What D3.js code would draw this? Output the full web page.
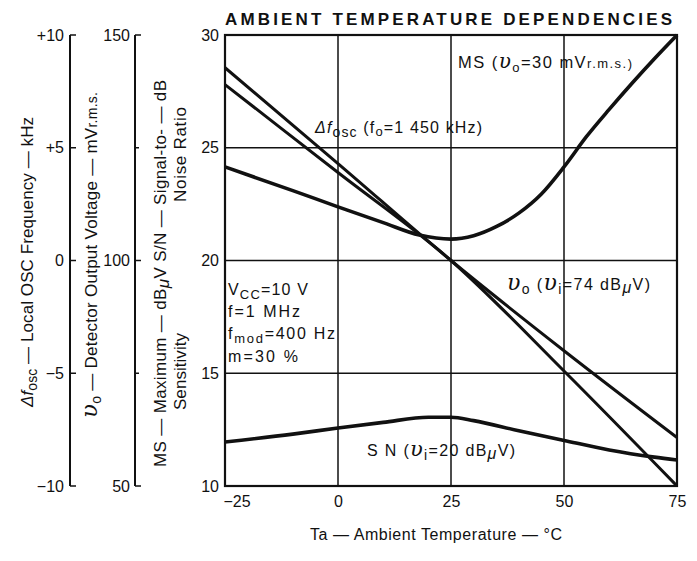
<!DOCTYPE html>
<html>
<head>
<meta charset="utf-8">
<script src="https://cdn.jsdelivr.net/npm/d3@7"></script>
<style>
	body { margin: 0; background: #fff; }
	svg { display: block; }
	text { font-family: "Liberation Sans", Arial, sans-serif; fill: #111; }
	.ups { font-family: "DejaVu Serif", serif; font-style: italic; }
</style>
</head>
<body>
<div class="graphic"></div>
<script>
// temperatures (deg C) and readings, taken off the printed curves
var msTemps = [-25, -10, 0, 10, 18, 25, 30, 35, 40, 45, 50, 55, 60, 65, 70, 75];
var msValues = [24.15, 23.1, 22.38, 21.68, 21.13, 20.95, 21.1, 21.5, 22.1, 22.95, 24.15, 25.5, 26.7, 27.85, 28.95, 30];

var dfoscTemps = [-25, 0, 25, 50, 75];
var dfoscValues = [28.55, 24.3, 20.0, 16.0, 12.15];

var voTemps = [-25, 0, 25, 50, 75];
var voValues = [27.8, 23.9, 20.0, 15.1, 10.0];

var snTemps = [-25, -10, 0, 10, 20, 25, 30, 40, 50, 60, 70, 75];
var snValues = [11.95, 12.3, 12.57, 12.82, 13.05, 13.05, 12.9, 12.45, 12.02, 11.6, 11.28, 11.15];

var xTicks = [-25, 0, 25, 50, 75];
var yTicks = [10, 15, 20, 25, 30];
var oscTicks = [-10, -5, 0, 5, 10];
var oscLabels = ['\u221210', '\u22125', '0', '+5', '+10'];
var msTicks = [50, 100, 150];
var msMinor = [75, 125];

var width = 697;
var height = 561;

var svg = d3.select('.graphic').append('svg')
	.attr('width', width)
	.attr('height', height)
	.attr('viewBox', `0 0 ${width} ${height}`);

var x = d3.scaleLinear().domain([-25, 75]).range([225, 677]);
var y = d3.scaleLinear().domain([10, 30]).range([486, 35]);
var yOsc = d3.scaleLinear().domain([-10, 10]).range([486, 35]);
var yMs = d3.scaleLinear().domain([50, 150]).range([486, 35]);

// grid
svg.selectAll('.vgrid')
	.data([0, 25, 50])
	.enter()
	.append('line')
	.attr('x1', d => x(d)).attr('x2', d => x(d))
	.attr('y1', y(30)).attr('y2', y(10))
	.attr('stroke', '#111').attr('stroke-width', 1.5);

svg.selectAll('.hgrid')
	.data([15, 20, 25])
	.enter()
	.append('line')
	.attr('x1', x(-25)).attr('x2', x(75))
	.attr('y1', d => y(d)).attr('y2', d => y(d))
	.attr('stroke', '#111').attr('stroke-width', 1.5);

svg.append('rect')
	.attr('x', x(-25)).attr('y', y(30))
	.attr('width', x(75) - x(-25)).attr('height', y(10) - y(30))
	.attr('fill', 'none').attr('stroke', '#111').attr('stroke-width', 2.2);

// axes of the plot
var xAxis = svg.append('g')
	.attr('transform', `translate(0,${y(10)})`)
	.call(d3.axisBottom(x).tickValues(xTicks).tickSize(0).tickPadding(10)
		.tickFormat(d => d < 0 ? '\u2212' + Math.abs(d) : d));
xAxis.select('.domain').remove();
xAxis.selectAll('text').attr('font-size', 16).attr('font-family', null)
	.attr('text-anchor', d => d == -25 ? 'start' : 'middle')
	.attr('dx', d => d == -25 ? -2 : 0);

var yAxis = svg.append('g')
	.attr('transform', `translate(${x(-25) - 6},0)`)
	.call(d3.axisLeft(y).tickValues(yTicks).tickSize(0).tickPadding(0));
yAxis.select('.domain').remove();
yAxis.selectAll('text').attr('font-size', 16).attr('font-family', null);

// left hand scales
function sideAxis(scale, xPos, ticks, labels, minor, labelEnd) {
	var g = svg.append('g').attr('transform', `translate(${xPos},0)`);
	g.append('line')
		.attr('x1', 0).attr('x2', 0)
		.attr('y1', scale.range()[1]).attr('y2', scale.range()[0])
		.attr('stroke', '#111').attr('stroke-width', 2);
	g.selectAll('.maj')
		.data(ticks)
		.enter()
		.append('line')
		.attr('x1', 0).attr('x2', 6)
		.attr('y1', d => scale(d)).attr('y2', d => scale(d))
		.attr('stroke', '#111').attr('stroke-width', 1.5);
	g.selectAll('.min')
		.data(minor)
		.enter()
		.append('line')
		.attr('x1', 0).attr('x2', 4)
		.attr('y1', d => scale(d)).attr('y2', d => scale(d))
		.attr('stroke', '#111').attr('stroke-width', 1.5);
	g.selectAll('text')
		.data(ticks)
		.enter()
		.append('text')
		.attr('x', labelEnd)
		.attr('y', d => scale(d))
		.attr('dy', '0.35em')
		.attr('text-anchor', 'end')
		.attr('font-size', 16)
		.text((d, i) => labels[i]);
}

sideAxis(yOsc, 70, oscTicks, oscLabels, [], -6);
sideAxis(yMs, 135, msTicks, msTicks, msMinor, -5);

// curves
var line = d3.line()
	.x(d => x(d[0]))
	.y(d => y(d[1]))
	.curve(d3.curveMonotoneX);

function drawCurve(temps, values, w) {
	svg.append('path')
		.datum(d3.zip(temps, values))
		.attr('d', line)
		.attr('fill', 'none')
		.attr('stroke', '#111')
		.attr('stroke-width', w)
		.attr('stroke-linejoin', 'round');
}

drawCurve(dfoscTemps, dfoscValues, 3);
drawCurve(voTemps, voValues, 3);
drawCurve(msTemps, msValues, 3.6);
drawCurve(snTemps, snValues, 3.6);

// text helper: stretch to the width it has in the print
function label(xPos, yPos, size, len) {
	return svg.append('text')
		.attr('x', xPos).attr('y', yPos)
		.attr('font-size', size)
		.attr('textLength', len)
		.attr('lengthAdjust', 'spacing');
}

label(225, 25, 17, 447).attr('font-weight', 'bold')
	.text('AMBIENT TEMPERATURE DEPENDENCIES');

label(310, 540, 16, 252).text('Ta \u2014 Ambient  Temperature \u2014 \u00b0C');

// curve labels
var ms = label(458, 68, 16.5, 174);
ms.append('tspan').text('MS (');
ms.append('tspan').attr('class', 'ups').attr('font-size', 20).text('\u03c5');
ms.append('tspan').attr('font-size', 13).attr('dy', 4).text('o');
ms.append('tspan').attr('dy', -4).text('=30  mV');
ms.append('tspan').attr('font-size', 13).text('r.m.s.)');

var df = label(315, 133, 16, 167);
df.append('tspan').attr('font-style', 'italic').text('\u0394f');
df.append('tspan').attr('font-size', 14).attr('dy', 4).text('osc');
df.append('tspan').attr('dy', -4).text(' (f');
df.append('tspan').attr('font-size', 13).attr('dy', 3).text('o');
df.append('tspan').attr('dy', -3).text('=1 450  kHz)');

var vo = label(507, 290, 16, 143);
vo.append('tspan').attr('class', 'ups').attr('font-size', 22).text('\u03c5');
vo.append('tspan').attr('font-size', 14).attr('dy', 4).text('o');
vo.append('tspan').attr('dy', -4).text(' (');
vo.append('tspan').attr('class', 'ups').attr('font-size', 22).text('\u03c5');
vo.append('tspan').attr('font-size', 14).attr('dy', 4).text('i');
vo.append('tspan').attr('dy', -4).text('=74  dB');
vo.append('tspan').attr('font-style', 'italic').attr('dy', 3).text('\u03bc');
vo.append('tspan').attr('dy', -3).text('V)');

var sn = label(367, 456, 16, 148);
sn.append('tspan').text('S N (');
sn.append('tspan').attr('class', 'ups').attr('font-size', 21).text('\u03c5');
sn.append('tspan').attr('font-size', 14).attr('dy', 4).text('i');
sn.append('tspan').attr('dy', -4).text('=20  dB');
sn.append('tspan').attr('font-style', 'italic').attr('dy', 3).text('\u03bc');
sn.append('tspan').attr('dy', -3).text('V)');

// conditions box
var c1 = label(228, 295, 16, 80);
c1.append('tspan').text('V');
c1.append('tspan').attr('font-size', 13).attr('dy', 4).text('CC');
c1.append('tspan').attr('dy', -4).text('=10  V');
label(228, 317, 16, 72).text('f=1  MHz');
var c3 = label(228, 339, 16, 107);
c3.append('tspan').text('f');
c3.append('tspan').attr('font-size', 13).attr('dy', 4).text('mod');
c3.append('tspan').attr('dy', -4).text('=400  Hz');
label(228, 362, 16, 70).text('m=30  %');

// rotated axis titles, x/y given at the text start (bottom end)
function vText(xPos, yStart, len) {
	return svg.append('text')
		.attr('transform', `translate(${xPos},${yStart}) rotate(-90)`)
		.attr('font-size', 17)
		.attr('textLength', len)
		.attr('lengthAdjust', 'spacing');
}

var t1 = vText(33, 407, 290);
t1.append('tspan').attr('font-style', 'italic').text('\u0394f');
t1.append('tspan').attr('font-size', 14).attr('dy', 4).text('osc');
t1.append('tspan').attr('dy', -4).text(' \u2014 Local  OSC  Frequency \u2014 kHz');

var t2 = vText(97, 418, 326);
t2.append('tspan').attr('class', 'ups').attr('font-size', 23).text('\u03c5');
t2.append('tspan').attr('font-size', 14).attr('dy', 4).text('o');
t2.append('tspan').attr('dy', -4).text(' \u2014 Detector  Output  Voltage \u2014 mV');
t2.append('tspan').attr('font-size', 14).text('r.m.s.');

var t3 = vText(166, 467, 387);
t3.append('tspan').text('MS \u2014 Maximum  \u2014 dB');
t3.append('tspan').attr('font-style', 'italic').attr('dy', 3).text('\u03bc');
t3.append('tspan').attr('dy', -3).text('V  S/N \u2014 Signal-to- \u2014 dB');

vText(186, 410, 77).text('Sensitivity');
vText(186, 202, 95).text('Noise  Ratio');
</script>
</body>
</html>
